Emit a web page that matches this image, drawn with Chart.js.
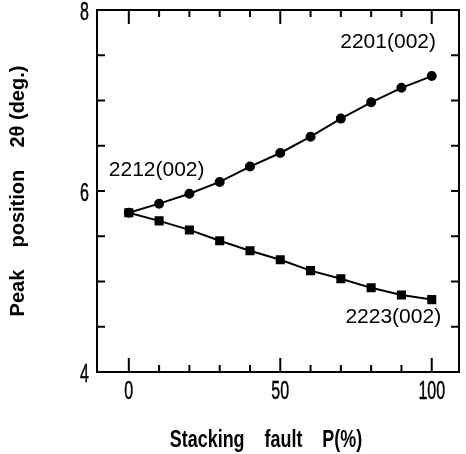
<!DOCTYPE html>
<html>
<head>
<meta charset="utf-8">
<script src="https://cdn.jsdelivr.net/npm/chart.js@4"></script>
<style>
html, body { margin: 0; padding: 0; background: #fff; }
</style>
</head>
<body>
<canvas id="chart" width="466" height="454"></canvas>
<script>
// stacking fault P (%)
const faultP = [0, 10, 20, 30, 40, 50, 60, 70, 80, 90, 100];
// peak position 2θ (deg.)
const peak2201 = [5.76, 5.86, 5.97, 6.10, 6.27, 6.42, 6.60, 6.80, 6.98, 7.14, 7.27];
const peak2223 = [5.76, 5.67, 5.57, 5.45, 5.34, 5.24, 5.12, 5.03, 4.93, 4.85, 4.80];

const seriesNames = ['2201(002)', '2212(002)', '2223(002)'];

const xTicks = [0, 10, 20, 30, 40, 50, 60, 70, 80, 90, 100];
const xTickLabels = ['0', '50', '100'];
const yTicks = [4, 4.5, 5, 5.5, 6, 6.5, 7, 7.5, 8];
const yTickLabels = ['4', '6', '8'];

const xTitle = 'Stacking    fault    P(%)';
const yTitle = 'Peak    position    2θ (deg.)';

const sans = '"Liberation Sans", Arial, sans-serif';

function line(ctx, x1, y1, x2, y2) {
    ctx.beginPath();
    ctx.moveTo(x1, y1);
    ctx.lineTo(x2, y2);
    ctx.stroke();
}

// text squeezed sideways, the figure uses a narrow face
function narrowText(ctx, text, x, y, squeeze, weight) {
    ctx.save();
    ctx.translate(x, y);
    ctx.scale(squeeze, 1);
    ctx.fillText(text, 0, 0);
    if (weight) {
        ctx.lineWidth = weight;
        ctx.strokeText(text, 0, 0);
    }
    ctx.restore();
}

// frame, inward ticks on all four sides, tick labels, x title and series labels
const frameAndLabels = {
    id: 'frameAndLabels',
    afterDraw(chart) {
        const { ctx, chartArea: a, scales: { x, y } } = chart;
        ctx.save();
        ctx.strokeStyle = '#000';
        ctx.fillStyle = '#000';
        ctx.lineWidth = 2;
        ctx.strokeRect(a.left, a.top, a.right - a.left, a.bottom - a.top);

        ctx.font = '25px ' + sans;
        ctx.textBaseline = 'middle';
        x.ticks.forEach(t => {
            const px = x.getPixelForValue(t.value);
            const len = t.value % 50 === 0 ? 14 : 7;
            ctx.lineWidth = 2;
            line(ctx, px, a.bottom, px, a.bottom - len);
            line(ctx, px, a.top, px, a.top + len);
            if (xTickLabels.includes(String(t.value))) {
                ctx.textAlign = 'center';
                narrowText(ctx, String(t.value), px, a.bottom + 20, 0.64, 0.5);
            }
        });
        y.ticks.forEach(t => {
            const py = y.getPixelForValue(t.value);
            ctx.lineWidth = 2;
            line(ctx, a.left, py, a.left + 8, py);
            line(ctx, a.right, py, a.right - 8, py);
            if (yTickLabels.includes(String(t.value))) {
                ctx.textAlign = 'right';
                narrowText(ctx, String(t.value), a.left - 8, py + 3, 0.64, 0.5);
            }
        });

        ctx.font = 'bold 23px ' + sans;
        ctx.textAlign = 'center';
        ctx.textBaseline = 'alphabetic';
        narrowText(ctx, xTitle, 266, 447, 0.78);

        ctx.font = '21px ' + sans;
        ctx.textBaseline = 'middle';
        ctx.fillText(seriesNames[0], x.getPixelForValue(85.6), y.getPixelForValue(7.64));
        ctx.fillText(seriesNames[1], x.getPixelForValue(9.2), y.getPixelForValue(6.23));
        ctx.fillText(seriesNames[2], x.getPixelForValue(87.3), y.getPixelForValue(4.61));
        ctx.restore();
    }
};

const ctx = document.getElementById('chart').getContext('2d');

new Chart(ctx, {
    type: 'line',
    data: {
        datasets: [{
            label: seriesNames[0],
            data: faultP.map((p, i) => ({ x: p, y: peak2201[i] })),
            borderColor: '#000',
            backgroundColor: '#000',
            borderWidth: 2,
            pointStyle: 'circle',
            pointRadius: 4,
            tension: 0
        }, {
            label: seriesNames[2],
            data: faultP.map((p, i) => ({ x: p, y: peak2223[i] })),
            borderColor: '#000',
            backgroundColor: '#000',
            borderWidth: 2,
            pointStyle: 'rect',
            pointRadius: 5,
            tension: 0
        }]
    },
    options: {
        responsive: false,
        animation: false,
        devicePixelRatio: 1,
        layout: { padding: { top: 10, right: 3, left: 0, bottom: 0 } },
        plugins: {
            legend: { display: false },
            tooltip: { enabled: false }
        },
        scales: {
            x: {
                type: 'linear',
                min: -10.5,
                max: 109,
                grid: { display: false, drawTicks: false },
                border: { display: false },
                afterBuildTicks: scale => { scale.ticks = xTicks.map(v => ({ value: v })); },
                afterFit: scale => {
                    scale.height = 82;
                    scale.paddingLeft = 0; scale.paddingRight = 0;
                },
                ticks: { display: false },
                title: { display: false }
            },
            y: {
                min: 4,
                max: 8,
                grid: { display: false, drawTicks: false },
                border: { display: false },
                afterBuildTicks: scale => { scale.ticks = yTicks.map(v => ({ value: v })); },
                afterFit: scale => {
                    scale.width = 97;
                    scale.paddingTop = 0; scale.paddingBottom = 0;
                },
                ticks: { display: false },
                title: {
                    display: true,
                    text: yTitle,
                    color: '#000',
                    font: { family: sans, size: 20, weight: 'bold', lineHeight: 1.2 },
                    padding: { top: 6, bottom: 0 }
                }
            }
        }
    },
    plugins: [frameAndLabels]
});
</script>
</body>
</html>
